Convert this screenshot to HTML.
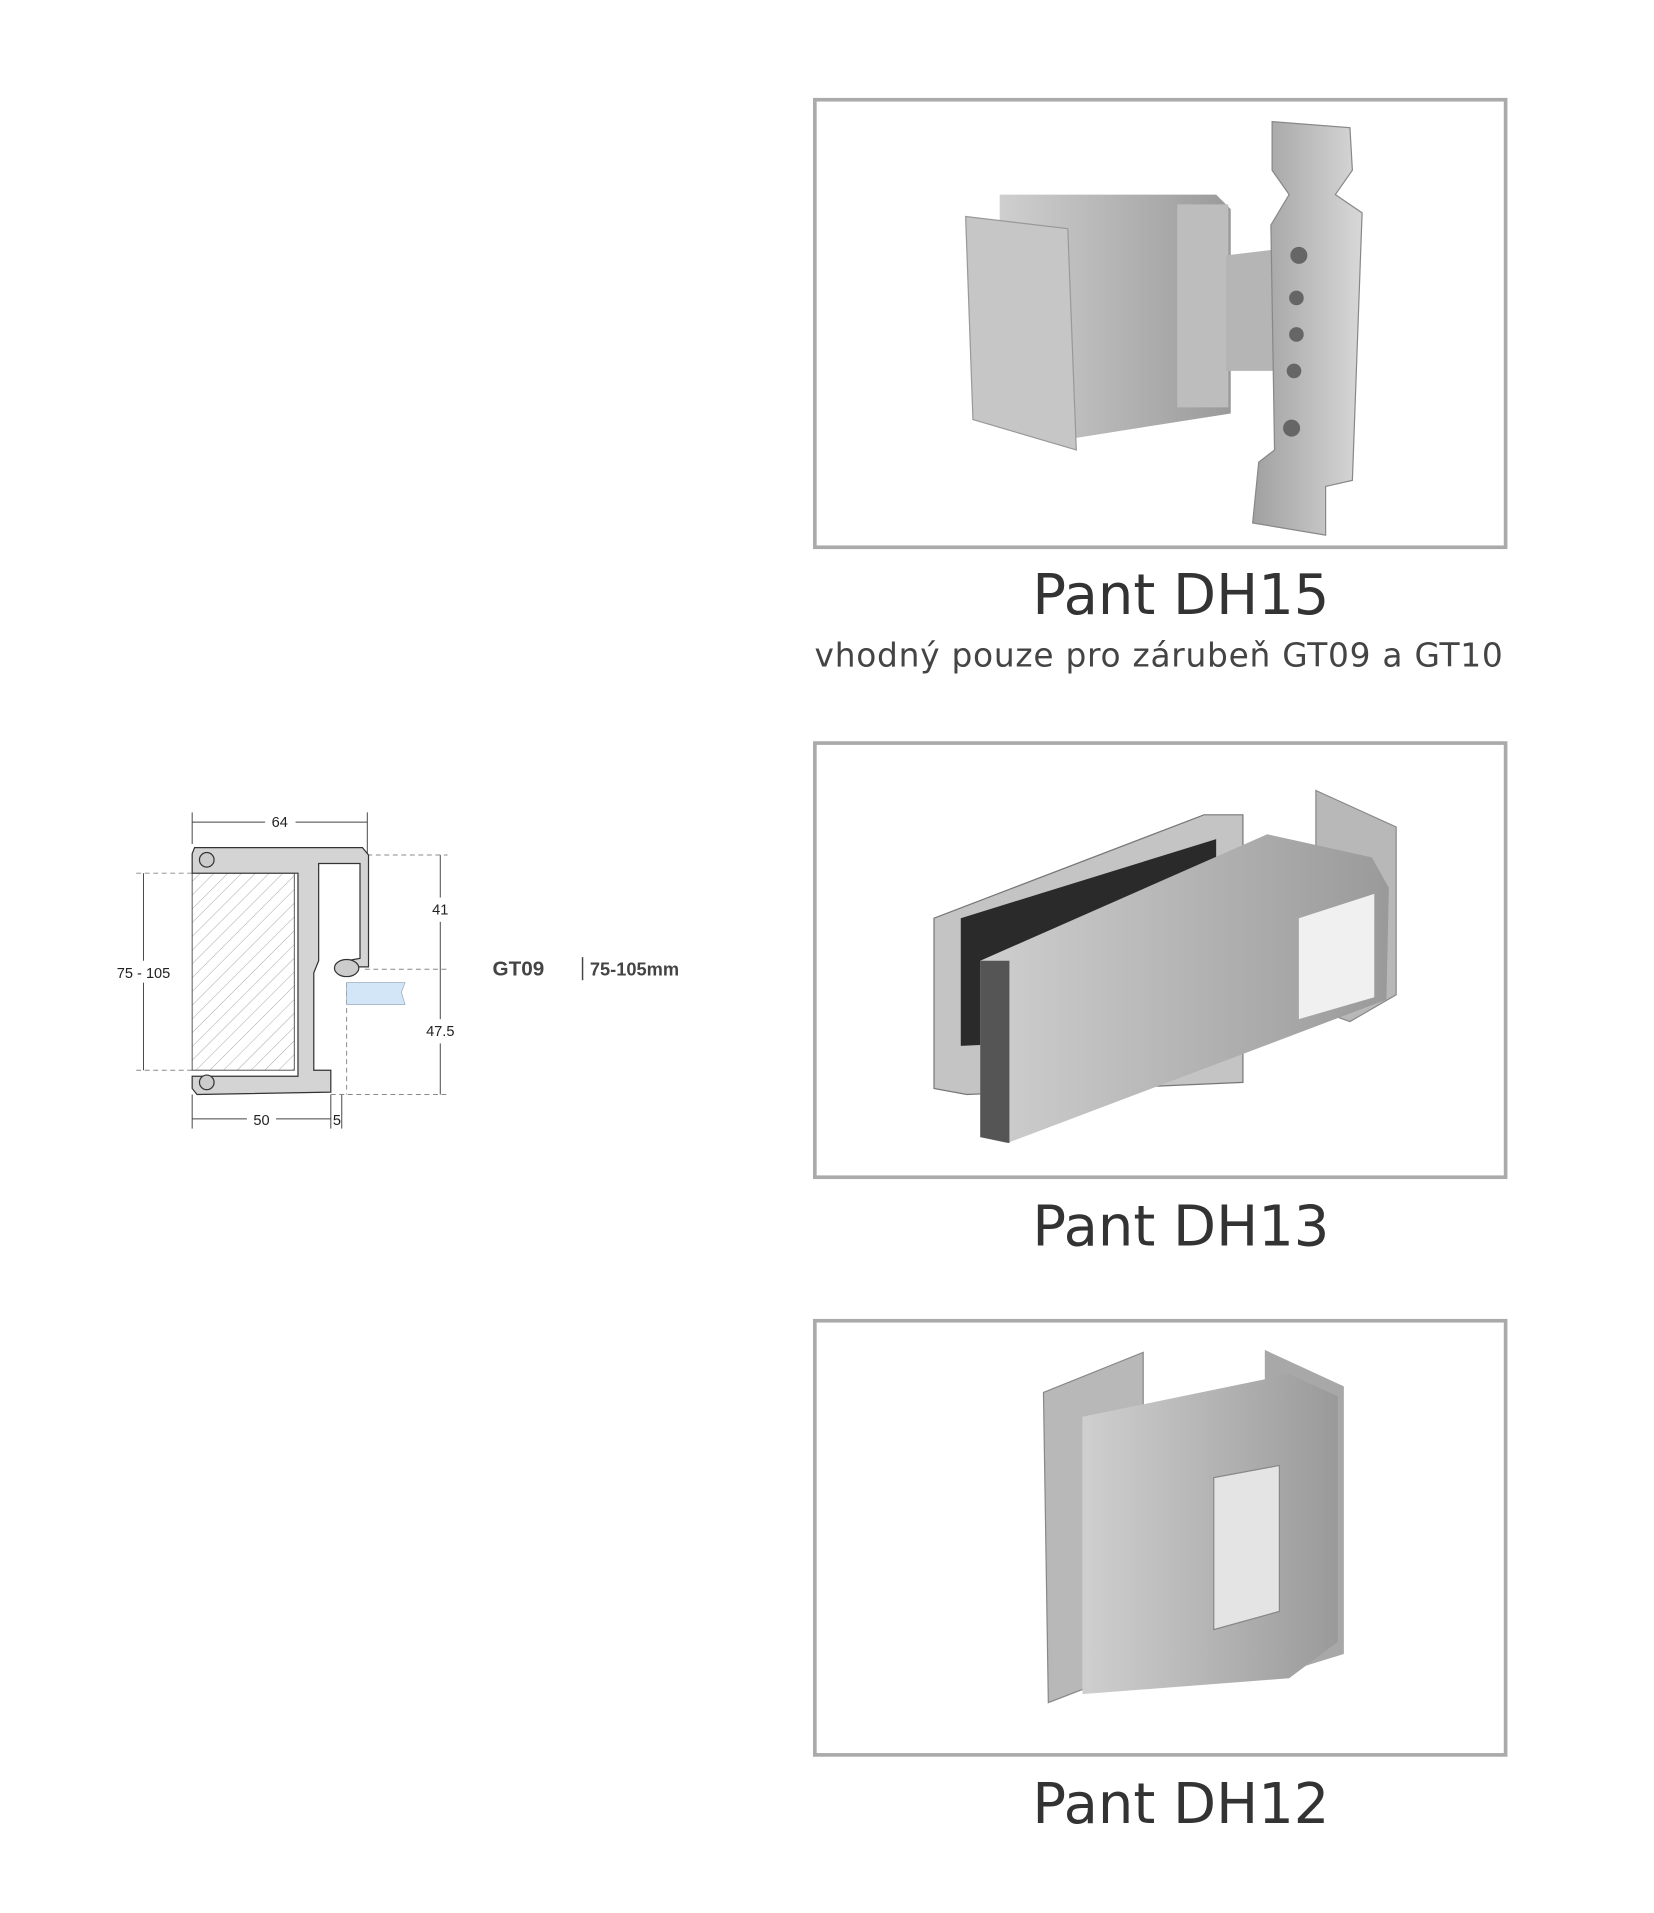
<!DOCTYPE html>
<html><head><meta charset="utf-8"><style>
html,body{margin:0;padding:0;background:#fff;}
svg{display:block}
</style></head><body>
<svg width="1654" height="1913" viewBox="0 0 1360 1573" xmlns="http://www.w3.org/2000/svg" font-family="'Liberation Sans',sans-serif">
<defs>
<pattern id="h" width="8" height="8" patternUnits="userSpaceOnUse" patternTransform="rotate(45)">
<line x1="0" y1="0" x2="0" y2="8" stroke="#999" stroke-width="0.7"/></pattern>
<linearGradient id="m1" x1="0" x2="1"><stop offset="0" stop-color="#cfcfcf"/><stop offset="1" stop-color="#9a9a9a"/></linearGradient>
<linearGradient id="m2" x1="0" x2="1"><stop offset="0" stop-color="#a0a0a0"/><stop offset="1" stop-color="#d8d8d8"/></linearGradient>
</defs>
<rect width="1360" height="1573" fill="#fff"/>

<!-- drawing GT09 -->
<g stroke="#444" stroke-width="0.8" fill="none">
<line x1="158" y1="668" x2="158" y2="694"/><line x1="302" y1="668" x2="302" y2="705"/>
<line x1="158" y1="676" x2="218" y2="676"/><line x1="243" y1="676" x2="302" y2="676"/>
<line x1="118" y1="718" x2="118" y2="790"/><line x1="118" y1="808" x2="118" y2="880"/>
<line x1="362" y1="703" x2="362" y2="738"/><line x1="362" y1="758" x2="362" y2="838"/><line x1="362" y1="858" x2="362" y2="900"/>
<line x1="158" y1="900" x2="158" y2="928"/><line x1="272" y1="900" x2="272" y2="928"/><line x1="281" y1="900" x2="281" y2="928"/>
<line x1="158" y1="920" x2="203" y2="920"/><line x1="227" y1="920" x2="272" y2="920"/>
</g>
<g stroke="#888" stroke-width="0.8" stroke-dasharray="4,3" fill="none">
<line x1="112" y1="718" x2="158" y2="718"/><line x1="112" y1="880" x2="158" y2="880"/>
<line x1="302" y1="703" x2="368" y2="703"/><line x1="300" y1="797" x2="368" y2="797"/>
<line x1="272" y1="900" x2="368" y2="900"/><line x1="285" y1="808" x2="285" y2="900"/>
</g>
<rect x="158" y="718" width="84" height="162" fill="url(#h)" stroke="#555" stroke-width="0.8"/>
<g fill="#d4d4d4" stroke="#333" stroke-width="1">
<path d="M160 697 L298 697 L303 703 L303 795 L285 795 L285 790 L296 788 L296 710 L262 710 L262 790 L258 800 L258 880 L272 880 L272 898 L162 900 L158 895 L158 885 L245 885 L245 718 L158 718 L158 702 Z"/>
</g>
<circle cx="170" cy="707" r="6" fill="#ccc" stroke="#333"/><circle cx="170" cy="890" r="6" fill="#ccc" stroke="#333"/>
<ellipse cx="285" cy="796" rx="10" ry="7" fill="#ccc" stroke="#333"/>
<path d="M285 808 L333 808 L330 816 L333 826 L285 826 Z" fill="#d2e6f7" stroke="#9ab" stroke-width="0.6"/>
<g font-size="12" fill="#222" text-anchor="middle">
<text x="230" y="680">64</text><text x="118" y="804">75 - 105</text>
<text x="362" y="752">41</text><text x="362" y="852">47.5</text>
<text x="215" y="925">50</text><text x="277" y="925">5</text>
</g>
<text x="405" y="802" font-size="17" font-weight="bold" fill="#444">GT09</text>
<line x1="479" y1="787" x2="479" y2="806" stroke="#444" stroke-width="1.2"/>
<text x="485" y="802" font-size="15" font-weight="bold" fill="#444">75-105mm</text>

<!-- boxes -->
<g fill="none" stroke="#aaa" stroke-width="3">
<rect x="670" y="82" width="568" height="368"/>
<rect x="670" y="611" width="568" height="357"/>
<rect x="670" y="1086" width="568" height="357"/>
</g>

<!-- DH15 -->
<path d="M822 160 L1000 160 L1012 172 L1012 340 L885 360 L822 340 Z" fill="url(#m1)"/>
<path d="M968 168 L1010 168 L1010 335 L968 335 Z" fill="#bdbdbd"/>
<path d="M794 178 L878 188 L885 370 L800 345 Z" fill="#c6c6c6" stroke="#999"/>
<path d="M1008 210 L1050 205 L1050 305 L1008 305 Z" fill="#b5b5b5"/>
<path d="M1046 100 L1110 105 L1112 140 L1098 160 L1120 175 L1112 395 L1090 400 L1090 440 L1030 430 L1035 380 L1048 370 L1045 185 L1060 160 L1046 140 Z" fill="url(#m2)" stroke="#888"/>
<g fill="#666"><circle cx="1068" cy="210" r="7"/><circle cx="1066" cy="245" r="6"/><circle cx="1066" cy="275" r="6"/><circle cx="1064" cy="305" r="6"/><circle cx="1062" cy="352" r="7"/></g>

<!-- DH13 -->
<path d="M768 755 L990 670 L1022 670 L1022 890 L795 900 L768 895 Z" fill="#c4c4c4" stroke="#777"/>
<path d="M790 755 L1000 690 L1000 850 L790 860 Z" fill="#2a2a2a"/>
<path d="M1082 650 L1148 680 L1148 818 L1110 840 L1082 830 Z" fill="#b8b8b8" stroke="#888"/>
<path d="M806 790 L1042 686 L1128 705 L1142 730 L1140 822 L828 940 L806 935 Z" fill="url(#m1)"/>
<path d="M806 790 L830 790 L830 940 L806 935 Z" fill="#555"/>
<path d="M1068 755 L1130 735 L1130 820 L1068 838 Z" fill="#f0f0f0"/>

<!-- DH12 -->
<path d="M858 1145 L940 1112 L940 1370 L862 1400 Z" fill="#b8b8b8" stroke="#888"/>
<path d="M1040 1110 L1105 1140 L1105 1360 L1040 1380 Z" fill="#a8a8a8"/>
<path d="M890 1165 L1060 1130 L1100 1148 L1100 1350 L1060 1380 L890 1393 Z" fill="url(#m1)"/>
<path d="M998 1215 L1052 1205 L1052 1325 L998 1340 Z" fill="#e4e4e4" stroke="#888"/>

<!-- labels -->
<g fill="#333" font-family="'DejaVu Sans','Liberation Sans',sans-serif" text-anchor="middle">
<text x="971" y="505" font-size="46">Pant DH15</text>
<text x="953" y="548" font-size="27" letter-spacing="0.6" fill="#444">vhodný pouze pro zárubeň GT09 a GT10</text>
<text x="971" y="1024" font-size="46">Pant DH13</text>
<text x="971" y="1499" font-size="46">Pant DH12</text>
</g>
</svg>
</body></html>
